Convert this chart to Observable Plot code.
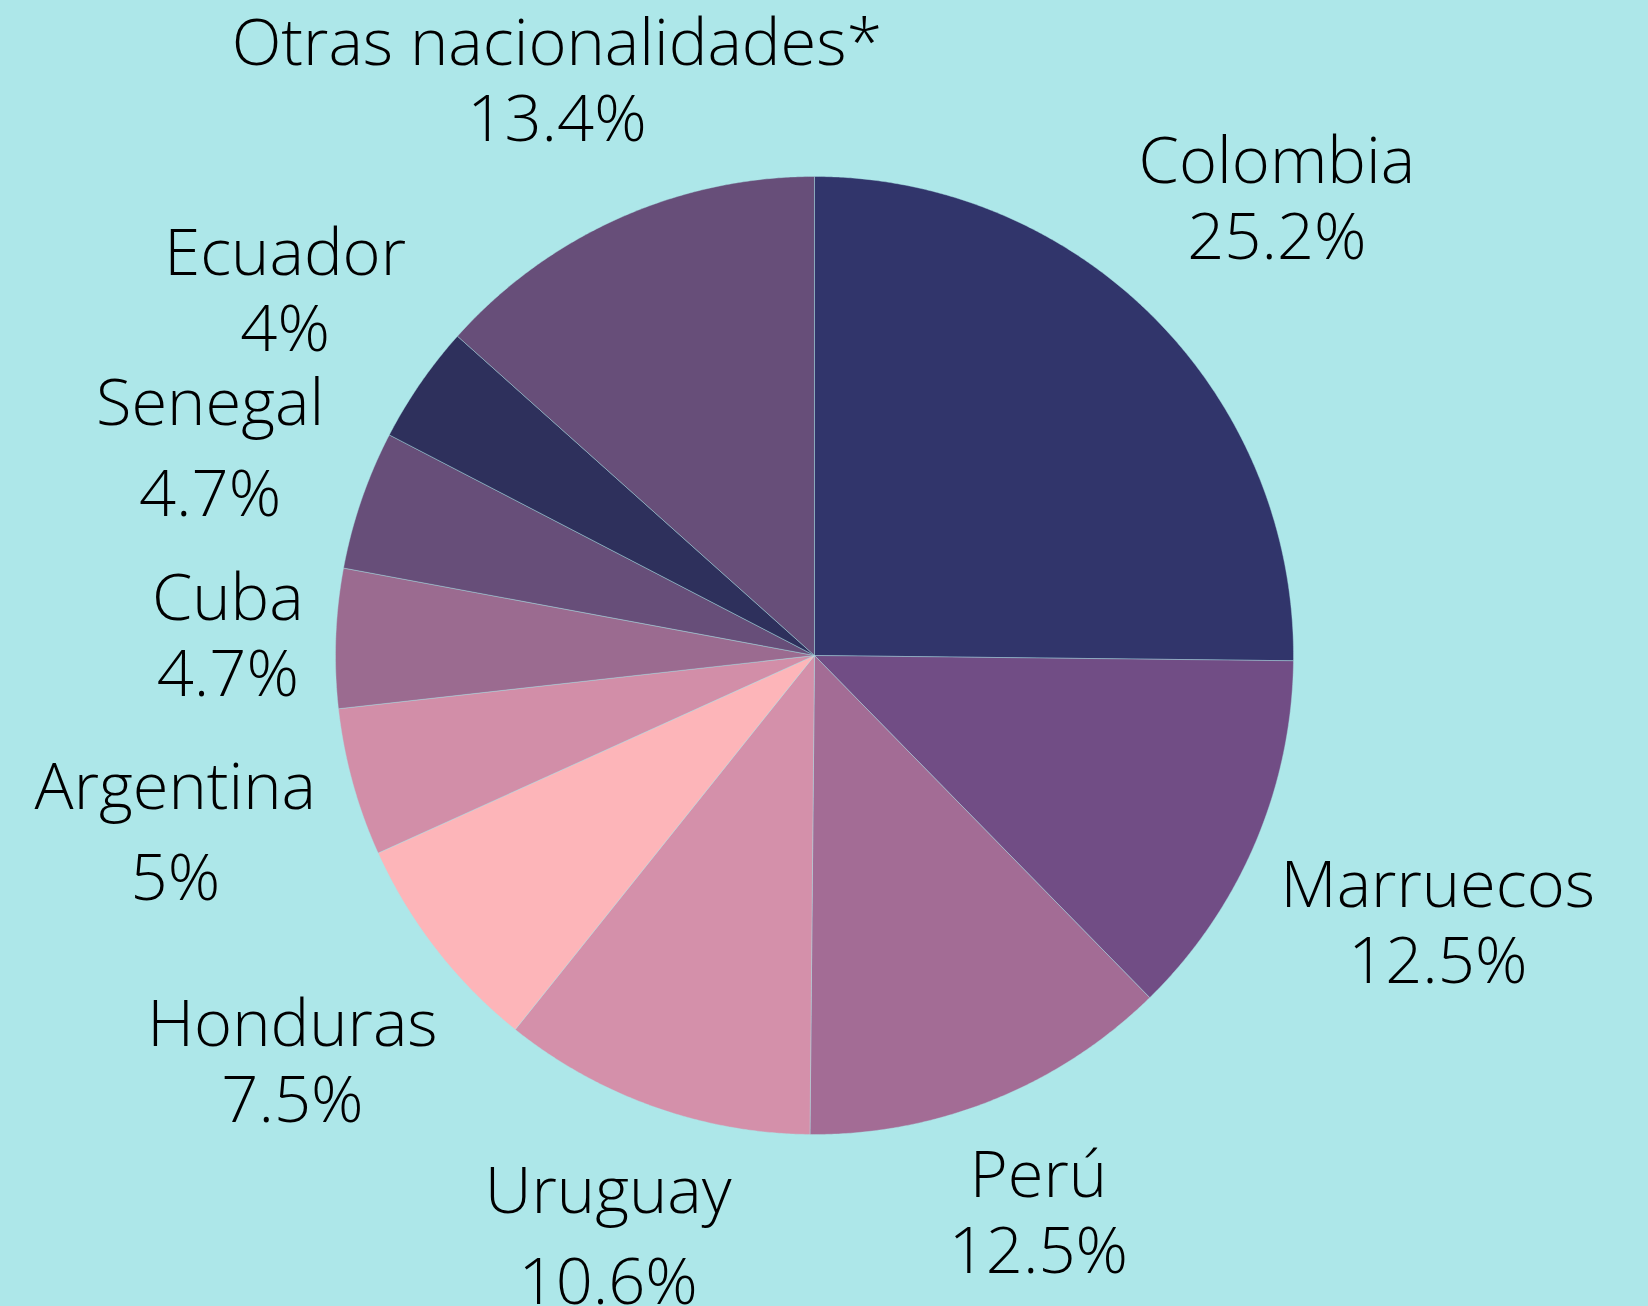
<!DOCTYPE html>
<html><head><meta charset="utf-8">
<script src="https://cdn.jsdelivr.net/npm/d3@7"></script>
<script src="https://cdn.jsdelivr.net/npm/@observablehq/plot@0.6"></script>
<style>html,body{margin:0;padding:0;background:#ade7e9;} svg{display:block}</style>
</head><body><div id="chart"></div>
<script>
// ---- data ----
const countries = ["Colombia","Marruecos","Perú","Uruguay","Honduras","Argentina","Cuba","Senegal","Ecuador","Otras nacionalidades*"];
const shares = [25.2,12.5,12.5,10.6,7.5,5,4.7,4.7,4,13.4];
const valueLabels = ["25.2%","12.5%","12.5%","10.6%","7.5%","5%","4.7%","4.7%","4%","13.4%"];
const sliceColors = ["#31356b","#714d85","#a36c95","#d490aa","#fdb5b9","#d28ea8","#9b6b90","#674e79","#2e305c","#674e79"];

// ---- layout ----
const W = 1648, H = 1306, CX = 814, CY = 655, R = 479;
const FONT_SIZE = 65, FONT_WEIGHT = 300, FONT_FAMILY = "'Open Sans', sans-serif";
const LABEL_PAD = 30, LINE_GAP = 76, TOP_LIMIT = 18, BOTTOM_LIMIT = H;
const BG = "#ade7e9";

const arcs = d3.pie().sort(null).value(d => d)(shares);

// slice polygons (arc geometry derived from the shares)
const slicePts = [];
arcs.forEach((a, i) => {
  const n = Math.max(4, Math.ceil((a.endAngle - a.startAngle) / 0.005));
  slicePts.push({name: countries[i], x: CX, y: CY});
  for (let k = 0; k <= n; k++) {
    const t = a.startAngle + (a.endAngle - a.startAngle) * k / n;
    slicePts.push({name: countries[i], x: CX + R * Math.sin(t), y: CY - R * Math.cos(t)});
  }
  slicePts.push({name: countries[i], x: CX, y: CY});
});

// label placement: box pushed out along the slice mid-angle
const ctx = document.createElement("canvas").getContext("2d");
ctx.font = `${FONT_WEIGHT} ${FONT_SIZE}px 'Open Sans'`;
const capH = 0.714 * FONT_SIZE;
const labels = arcs.map((a, i) => {
  const mid = (a.startAngle + a.endAngle) / 2;
  const ux = Math.sin(mid), uy = -Math.cos(mid);
  const mn = ctx.measureText(countries[i]), mv = ctx.measureText(valueLabels[i]);
  const w = Math.max(mn.width, mv.width);
  const desc = mn.actualBoundingBoxDescent > 3 ? mn.actualBoundingBoxDescent : 0;
  const gap = LINE_GAP + desc;
  const h = capH + gap;
  let d = R + LABEL_PAD + Math.abs(ux) * w / 2 + Math.abs(uy) * h / 2;
  let cy = CY + d * uy;
  if (cy - h / 2 < TOP_LIMIT) { d = (TOP_LIMIT + h / 2 - CY) / uy; }
  else if (cy + h / 2 > BOTTOM_LIMIT) { d = (BOTTOM_LIMIT - h / 2 - CY) / uy; }
  cy = CY + d * uy;
  const cx = CX + d * ux;
  return {name: countries[i], value: valueLabels[i], x: cx,
          yName: cy - h / 2 + capH, yValue: cy + h / 2};
});

const textOpts = {textAnchor: "middle", lineAnchor: "bottom", fontSize: FONT_SIZE,
  fontWeight: FONT_WEIGHT, fontFamily: FONT_FAMILY, fill: "#000"};

const chart = Plot.plot({
  width: W, height: H, margin: 0,
  x: {domain: [0, W], range: [0, W], axis: null},
  y: {domain: [0, H], range: [0, H], axis: null},
  color: {domain: countries, range: sliceColors},
  style: {background: BG},
  marks: [
    Plot.line(slicePts, {x: "x", y: "y", z: "name", fill: "name", stroke: BG, strokeOpacity: 0.5, strokeWidth: 0.8, curve: "linear"}),
    Plot.text(labels, {x: "x", y: "yName", text: "name", ...textOpts}),
    Plot.text(labels, {x: "x", y: "yValue", text: "value", ...textOpts})
  ]
});
document.getElementById("chart").append(chart);
</script>
</body></html>
